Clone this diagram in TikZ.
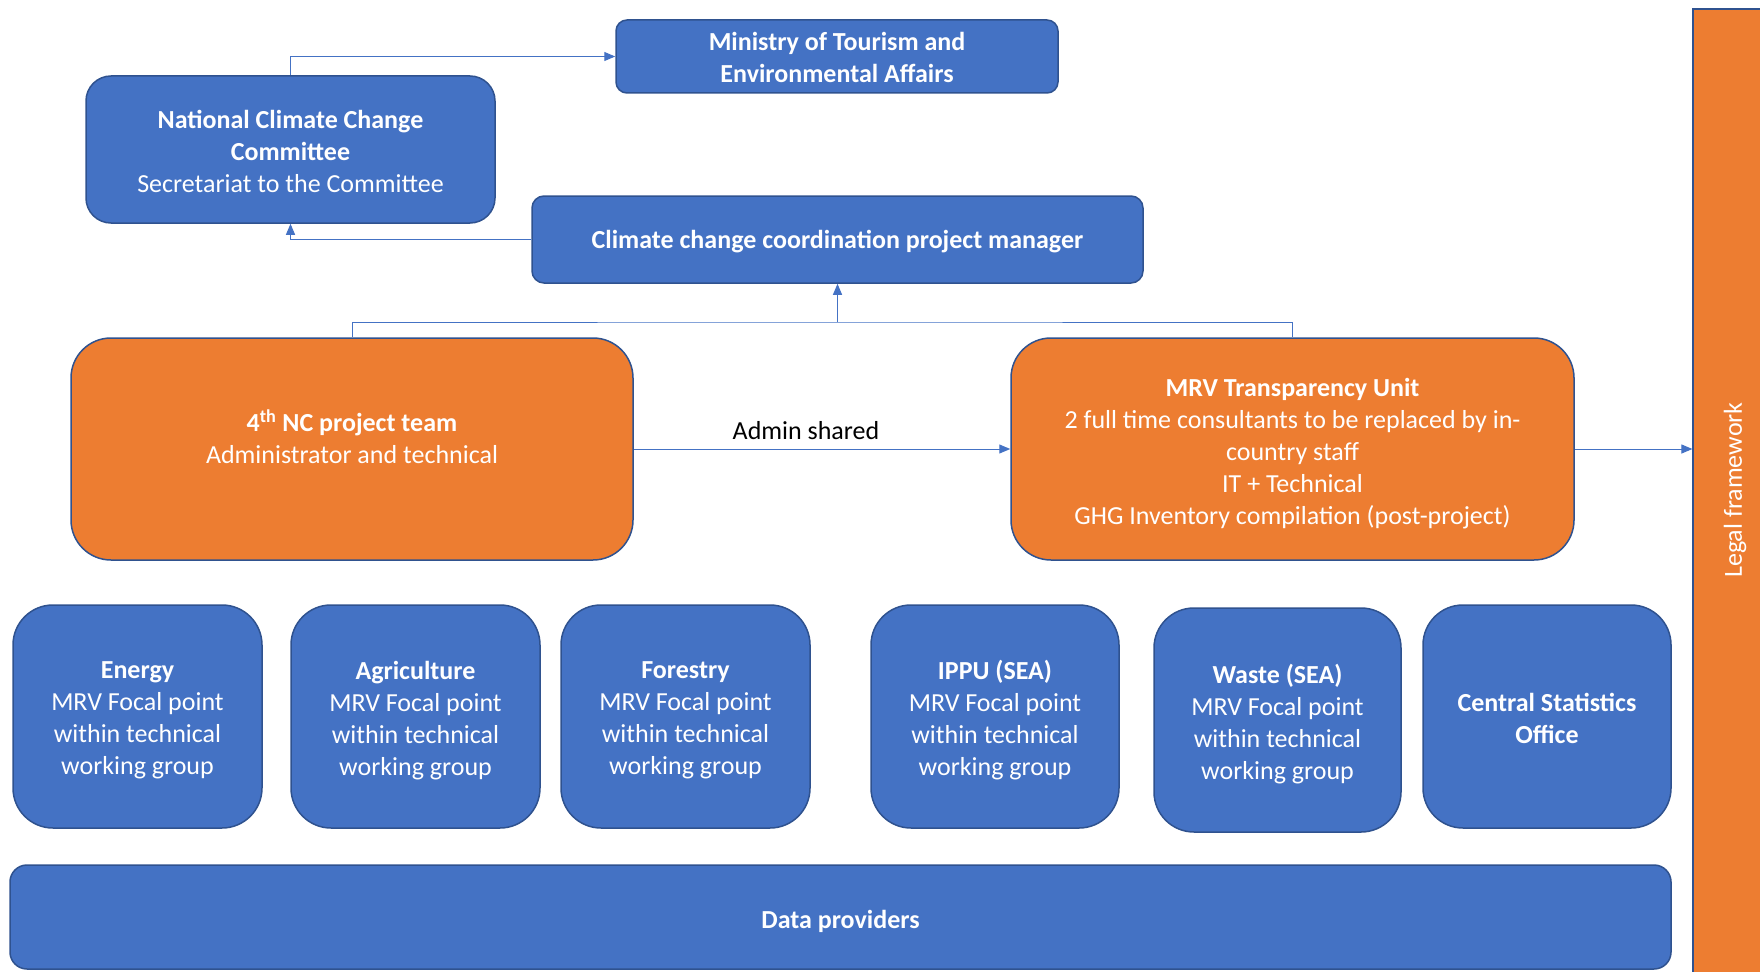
\documentclass[tikz,border=0pt]{standalone}
\usepackage{fontspec}
\setmainfont{Carlito}
\usetikzlibrary{arrows.meta,calc}
\definecolor{boxblue}{HTML}{4472C4}
\definecolor{boxorange}{HTML}{ED7D31}
\definecolor{edgeblue}{HTML}{2F528F}
\definecolor{lineblue}{HTML}{4472C4}
\tikzset{
  box/.style={draw=edgeblue, line width=1.5pt, fill=boxblue, inner sep=0pt},
  obox/.style={box, fill=boxorange},
  txt/.style={text=white, align=center, font=\fontsize{26}{32}\selectfont, inner sep=0pt},
  conn/.style={draw=lineblue, line width=1pt},
  arr/.style={conn, -{Triangle[length=11pt,width=9pt]}}
}
\begin{document}
\begin{tikzpicture}[x=1pt,y=-1pt]
\useasboundingbox (0,0) rectangle (1760,971);
% boxes
\node[box, rounded corners=11pt, minimum width=442pt, minimum height=73pt] (min) at (837,56.5) {};
\node[box, rounded corners=25pt, minimum width=409pt, minimum height=147pt] (nccc) at (290.5,149.5) {};
\node[box, rounded corners=12pt, minimum width=611pt, minimum height=87pt] (pm) at (837.5,239.5) {};
\node[obox, rounded corners=40pt, minimum width=562pt, minimum height=222pt] (nc) at (352,449) {};
\node[obox, rounded corners=40pt, minimum width=563pt, minimum height=222pt] (mrv) at (1292.5,449) {};
\node[obox, draw=edgeblue, line width=1.2pt, minimum width=84pt, minimum height=990pt] (legal) at (1735,504) {};
\node[box, rounded corners=40pt, minimum width=249pt, minimum height=223pt] (energy) at (137.5,716.5) {};
\node[box, rounded corners=40pt, minimum width=249pt, minimum height=223pt] (agri) at (415.5,716.5) {};
\node[box, rounded corners=40pt, minimum width=249pt, minimum height=223pt] (forest) at (685.5,716.5) {};
\node[box, rounded corners=40pt, minimum width=248pt, minimum height=223pt] (ippu) at (995,716.5) {};
\node[box, rounded corners=40pt, minimum width=247pt, minimum height=224pt] (waste) at (1277.5,720) {};
\node[box, rounded corners=40pt, minimum width=248pt, minimum height=223pt] (cso) at (1547,716.5) {};
\node[box, rounded corners=17pt, minimum width=1661pt, minimum height=104pt] (data) at (840.5,917) {};
% texts
\node[txt] (tmin) at ($(min.center)+(0,1)$) {\textbf{Ministry of Tourism and}\\\textbf{Environmental Affairs}};
\node[txt] (tnccc) at ($(nccc.center)+(0,2)$) {\textbf{National Climate Change}\\\textbf{Committee}\\Secretariat to the Committee};
\node[txt] (tpm) at ($(pm.center)+(0,2)$) {\textbf{Climate change coordination project manager}};
\node[txt] (tnc) at ($(nc.center)+(0,-12)$) {\textbf{4\textsuperscript{th} NC project team}\\Administrator and technical};
\node[txt] (tmrv) at ($(mrv.center)+(0,5)$) {\textbf{MRV Transparency Unit}\\2 full time consultants to be replaced by in-\\country staff\\IT + Technical\\GHG Inventory compilation (post-project)};
\node[txt, rotate=90] (tlegal) at (1735,490) {Legal framework};
\node[txt] (tenergy) at ($(energy.center)+(0,4)$) {\textbf{Energy}\\MRV Focal point\\within technical\\working group};
\node[txt] (tagri) at ($(agri.center)+(0,4)$) {\textbf{Agriculture}\\MRV Focal point\\within technical\\working group};
\node[txt] (tforest) at ($(forest.center)+(0,4)$) {\textbf{Forestry}\\MRV Focal point\\within technical\\working group};
\node[txt] (tippu) at ($(ippu.center)+(0,4)$) {\textbf{IPPU (SEA)}\\MRV Focal point\\within technical\\working group};
\node[txt] (twaste) at ($(waste.center)+(0,4)$) {\textbf{Waste (SEA)}\\MRV Focal point\\within technical\\working group};
\node[txt] (tcso) at ($(cso.center)+(0,2)$) {\textbf{Central Statistics}\\\textbf{Office}};
\node[txt] (tdata) at ($(data.center)+(0,4)$) {\textbf{Data providers}};
% connectors
\draw[arr] (nccc.north) |- (min.west);
\draw[arr] (pm.west) -| (nccc.south);
\coordinate (j) at (837.5,322);
\draw[conn] (nc.north) |- (j) -| (mrv.north);
\draw[arr] (j) -- (pm.south);
\draw[arr] (nc.east) -- (mrv.west);
\node[txt, text=black] (tadmin) at (806,431) {Admin shared};
\draw[arr] (mrv.east) -- (mrv.east -| legal.west);
\end{tikzpicture}
\end{document}
